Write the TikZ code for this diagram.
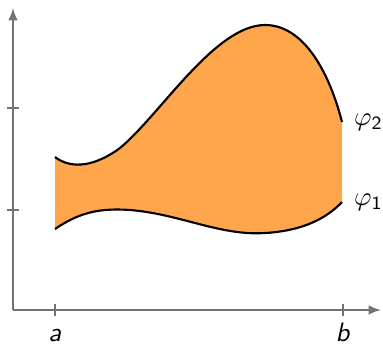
\documentclass[tikz,border=0pt]{standalone}
\usepackage{amsmath}
\usepackage{tikz}
\usetikzlibrary{arrows}
\tikzset{
	axis/.style={semithick,black!55,->,>=latex},
	tick/.style={black!55,thin},
	bound/.style={thick,black},
	region/.style={fill=orange!70}
}

\begin{document}
\begin{tikzpicture}[x=0.375pt,y=-0.375pt,font=\sffamily]
	\useasboundingbox (0,0) rectangle (383,344);
	% region between the two curves
	\fill[region] (55,157) .. controls (68,167) and (90,170) .. (120,148)
		.. controls (160,115) and (215,25) .. (265,25)
		.. controls (305,25) and (330,75) .. (342,122)
		-- (342,202) .. controls (325,220) and (300,231) .. (265,233)
		.. controls (220,236) and (180,214) .. (130,210)
		.. controls (100,208) and (80,212) .. (55,229) -- cycle;
	\draw[bound] (55,157) .. controls (68,167) and (90,170) .. (120,148)
		.. controls (160,115) and (215,25) .. (265,25)
		.. controls (305,25) and (330,75) .. (342,122) coordinate (phitwo);
	\draw[bound] (55,229) .. controls (80,212) and (100,208) .. (130,210)
		.. controls (180,214) and (220,236) .. (265,233)
		.. controls (300,231) and (325,220) .. (342,202) coordinate (phione);
	\node[right=1pt] (ltwo) at (phitwo) {$\varphi_{\mathsf{2}}$};
	\node[right=1pt] (lone) at (phione) {$\varphi_{\mathsf{1}}$};
	% axes
	\coordinate (O) at (13,310);
	\draw[axis] (O) -- (381,310);
	\draw[axis] (O) -- (13,8);
	\foreach \y in {108,210}
		\draw[tick] (7,\y) -- (19,\y);
	\foreach \x/\t/\n in {55/a/la,343/b/lb}
		\draw[tick] (\x,304) -- (\x,316)
			node[below=2.6pt,black,inner sep=0pt,text height=1.6ex,text depth=0pt] (\n) {\textit{\t}};
\end{tikzpicture}
\end{document}
